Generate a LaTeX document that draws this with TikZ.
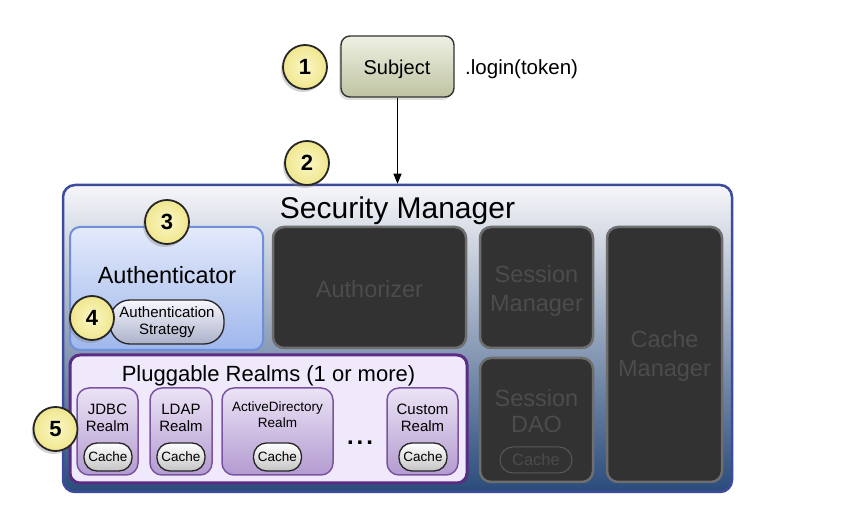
\documentclass[tikz,border=0pt]{standalone}
\usepackage{fontspec}
\setmainfont{Liberation Sans}
\usetikzlibrary{shadows,arrows.meta}
\definecolor{smborder}{HTML}{3C4B9C}
\definecolor{smtop}{HTML}{F6F6F9}
\definecolor{smmid}{HTML}{B7C3D4}
\definecolor{smbot}{HTML}{2A4B7B}
\definecolor{authborder}{HTML}{6F8FDC}
\definecolor{authtop}{HTML}{E3EAFA}
\definecolor{authbot}{HTML}{9FB7EC}
\definecolor{darkfill}{HTML}{323232}
\definecolor{darkborder}{HTML}{6E6E6E}
\definecolor{darktext}{HTML}{4C4C4C}
\definecolor{realmsborder}{HTML}{5A2D85}
\definecolor{realmsfill}{HTML}{F0E9FC}
\definecolor{realmborder}{HTML}{7A54A2}
\definecolor{realmtop}{HTML}{EBE3F5}
\definecolor{realmbot}{HTML}{B39BD0}
\definecolor{subjtop}{HTML}{EEF0E2}
\definecolor{subjbot}{HTML}{BFC3A2}
\definecolor{numin}{HTML}{FBF7C6}
\definecolor{numout}{HTML}{F0E68E}
\definecolor{pillbot}{HTML}{C4C4C4}
\definecolor{stratbot}{HTML}{ABB1C9}
\begin{document}
\begin{tikzpicture}[x=1pt,y=-1pt,
  numc/.style={circle, draw=black!85, line width=1.8pt, inner color=numin, outer color=numout,
    minimum size=44pt, inner sep=0pt, font=\fontsize{22}{22}\selectfont\bfseries,
    drop shadow={shadow xshift=-2pt, shadow yshift=-3pt, opacity=0.35}},
  subjbox/.style={draw=black!80, line width=1.4pt, rounded corners=9pt, top color=subjtop, bottom color=subjbot,
    drop shadow={shadow xshift=-2pt, shadow yshift=-3pt, opacity=0.25}},
  smbox/.style={draw=smborder, line width=2.5pt, rounded corners=12pt, top color=smtop, middle color=smmid, bottom color=smbot},
  authbox/.style={draw=authborder, line width=2pt, rounded corners=10pt, top color=authtop, bottom color=authbot},
  darkbox/.style={draw=darkborder, line width=2.5pt, rounded corners=11pt, fill=darkfill},
  realmsbox/.style={draw=realmsborder, line width=3pt, rounded corners=10pt, fill=realmsfill},
  realmbox/.style={draw=realmborder, line width=1.5pt, rounded corners=12pt, top color=realmtop, bottom color=realmbot},
  cachepill/.style={draw=black!85, line width=1.3pt, rounded corners=13pt, top color=white, bottom color=pillbot,
    minimum width=48pt, minimum height=28pt, inner sep=0pt, font=\fontsize{13.5}{13.5}\selectfont},
  txt/.style={anchor=base, inner sep=0pt},
  dtxt/.style={anchor=base, inner sep=0pt, text=darktext, font=\fontsize{23.5}{23.5}\selectfont},
  rtxt/.style={anchor=base, inner sep=0pt, font=\fontsize{15}{15}\selectfont},
  conn/.style={line width=1.1pt, -{Triangle[length=10pt,width=8pt]}}
]
\useasboundingbox (0,0) rectangle (852,526);

% Subject
\node[subjbox, minimum width=113pt, minimum height=61pt] (subj) at (397.5,66.5) {};
\node[txt, font=\fontsize{20}{20}\selectfont] (subjt) at (397,75) {Subject};
\node[txt, anchor=base west, font=\fontsize{20.5}{20.5}\selectfont] (login) at (465,75) {.login(token)};

% Security manager
\node[smbox, minimum width=669pt, minimum height=307pt] (sm) at (397.5,338.5) {};
\node[txt, font=\fontsize{30}{30}\selectfont] (smt) at (397.5,219) {Security Manager};

\draw[conn] (subj.south) -- (sm.north);

% Authenticator
\node[authbox, minimum width=193pt, minimum height=123pt] (auth) at (166.5,288.5) {};
\node[txt, font=\fontsize{23.5}{23.5}\selectfont] (autht) at (167,284) {Authenticator};
\node[draw=black!85, line width=1.3pt, rounded corners=20pt, top color=white!97!blue, bottom color=stratbot,
  minimum width=114pt, minimum height=44pt, inner sep=0pt, align=center,
  font=\fontsize{15}{17}\selectfont] (strat) at (167,322) {Authentication\\Strategy};

% Dark boxes
\node[darkbox, minimum width=193pt, minimum height=121pt] (authz) at (369.5,287.5) {};
\node[dtxt] (authzt) at (369.5,298) {Authorizer};
\node[darkbox, minimum width=113pt, minimum height=121pt] (sessm) at (536.5,287.5) {};
\node[dtxt] (sessmt1) at (536.5,283) {Session};
\node[dtxt] (sessmt2) at (536.5,312) {Manager};
\node[darkbox, minimum width=115pt, minimum height=255pt] (cachem) at (664.5,354.5) {};
\node[dtxt] (cachemt1) at (664.5,348) {Cache};
\node[dtxt] (cachemt2) at (664.5,377) {Manager};
\node[darkbox, minimum width=113pt, minimum height=124pt] (dao) at (536.5,420) {};
\node[dtxt] (daot1) at (536.5,407) {Session};
\node[dtxt] (daot2) at (536.5,433) {DAO};
\node[draw=darkborder!80!black, line width=1pt, rounded corners=13pt, minimum width=72pt, minimum height=26pt,
  inner sep=0pt, text=darktext, font=\fontsize{16.5}{16.5}\selectfont] (daocache) at (536,460) {Cache};

% Realms
\node[realmsbox, minimum width=397pt, minimum height=128pt] (realms) at (268.5,419) {};
\node[txt, font=\fontsize{22}{22}\selectfont] (realmst) at (268.5,382) {Pluggable Realms (1 or more)};

\node[realmbox, minimum width=61pt, minimum height=87pt] (jdbc) at (107.5,431.5) {};
\node[rtxt] (jdbct1) at (107.5,415) {JDBC};
\node[rtxt] (jdbct2) at (107.5,432) {Realm};
\node[cachepill] (jdbcc) at (108,457) {Cache};

\node[realmbox, minimum width=62pt, minimum height=87pt] (ldap) at (181,431.5) {};
\node[rtxt] (ldapt1) at (181,415) {LDAP};
\node[rtxt] (ldapt2) at (181,432) {Realm};
\node[cachepill] (ldapc) at (181,457) {Cache};

\node[realmbox, minimum width=111pt, minimum height=87pt] (ad) at (277.5,431.5) {};
\node[rtxt, font=\fontsize{13.5}{13.5}\selectfont] (adt1) at (277.5,412) {ActiveDirectory};
\node[rtxt, font=\fontsize{13.5}{13.5}\selectfont] (adt2) at (277.5,428) {Realm};
\node[cachepill] (adc) at (277.5,457) {Cache};

\node[txt, font=\fontsize{24}{24}\selectfont\bfseries] (dots) at (360,445) {.\hspace{3pt}.\hspace{3pt}.};

\node[realmbox, minimum width=71pt, minimum height=87pt] (custom) at (422.5,431.5) {};
\node[rtxt] (customt1) at (422.5,415) {Custom};
\node[rtxt] (customt2) at (422.5,432) {Realm};
\node[cachepill] (customc) at (423,457) {Cache};

% Numbered circles
\node[numc] (n1) at (305,67) {1};
\node[numc] (n2) at (307,163) {2};
\node[numc] (n3) at (167,222) {3};
\node[numc] (n4) at (92,318) {4};
\node[numc] (n5) at (55.5,429) {5};
\end{tikzpicture}
\end{document}
